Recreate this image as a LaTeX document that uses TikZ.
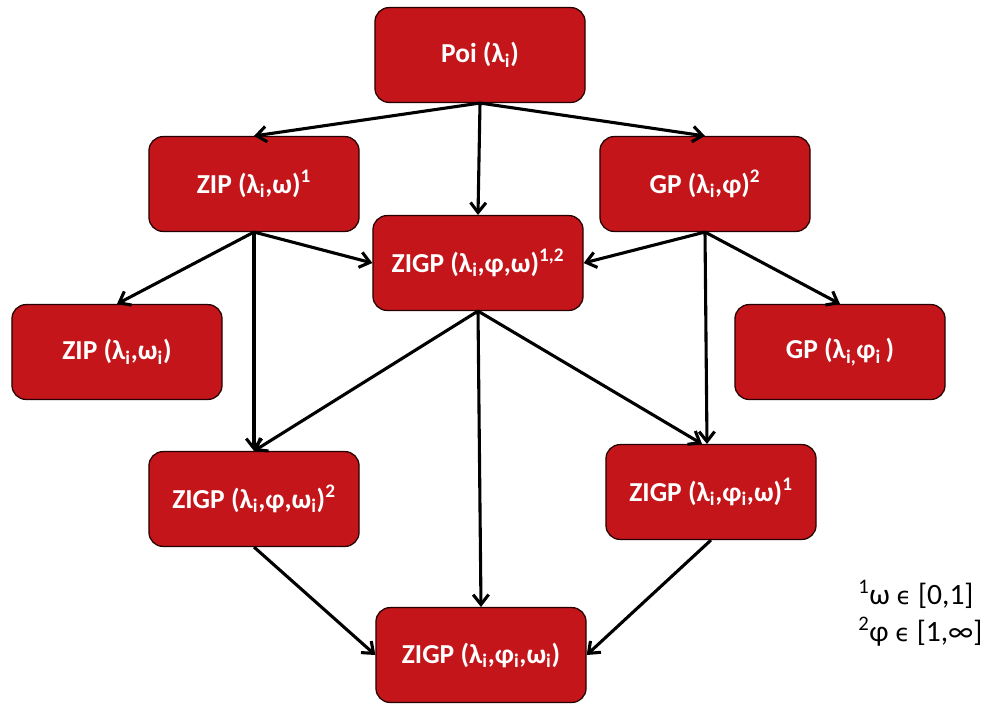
\documentclass[tikz,border=0pt]{standalone}
\usepackage{fontspec}
\setmainfont{Carlito}
\newfontfamily\symfont{DejaVu Sans}
\usetikzlibrary{arrows.meta}
\definecolor{boxred}{RGB}{196,22,26}

\begin{document}
\begin{tikzpicture}[x=0.025cm,y=-0.025cm,
  box/.style={draw=black!85!red,line width=0.9pt,rounded corners=10pt,fill=boxred,text=white,
    font=\bfseries\fontsize{19.5}{23}\selectfont,minimum width=5.25cm,minimum height=2.37cm,inner sep=0pt},
  conn/.style={-{Straight Barb[length=7pt,width=11pt]},line width=2.2pt}]
  \useasboundingbox (0,0) rectangle (992,706);
  % models
  \node[box] (poi) at (480,55) {Poi (λ\textsubscript{i})};
  \node[box] (zip) at (254,184) {ZIP (λ\textsubscript{i},ω)\textsuperscript{1}};
  \node[box] (gp) at (705,184) {GP (λ\textsubscript{i},φ)\textsuperscript{2}};
  \node[box] (zigp) at (478,263) {ZIGP (λ\textsubscript{i},φ,ω)\textsuperscript{1,2}};
  \node[box] (zipw) at (117,352) {ZIP (λ\textsubscript{i},ω\textsubscript{i})};
  \node[box] (gpw) at (840,352) {GP (λ\textsubscript{i,}φ\textsubscript{i}\,)};
  \node[box] (zigpw) at (254,499) {ZIGP (λ\textsubscript{i},φ,ω\textsubscript{i})\textsuperscript{2}};
  \node[box] (zigpf) at (711,492) {ZIGP (λ\textsubscript{i},φ\textsubscript{i},ω)\textsuperscript{1}};
  \node[box] (zigpall) at (481,655) {ZIGP (λ\textsubscript{i},φ\textsubscript{i},ω\textsubscript{i})};
  % footnotes
  \node[anchor=north west,align=left,inner sep=0pt,font=\fontsize{21}{26.5}\selectfont] (note) at (858,580)
    {\textsuperscript{1}ω {\symfont\fontsize{17}{20}\selectfont ϵ} [0,1]\\\textsuperscript{2}φ {\symfont\fontsize{17}{20}\selectfont ϵ} [1,∞]};
  % connectors
  \draw[conn] (poi.south) -- (zip.north);
  \draw[conn] (poi.south) -- (zigp.north);
  \draw[conn] (poi.south) -- (gp.north);
  \draw[conn] (zip.south) -- (zipw.north);
  \draw[conn] (zip.south) -- (zigp.west);
  \draw[conn] (zip.south) -- (zigpw.north);
  \draw[conn] (gp.south) -- (zigp.east);
  \draw[conn] (gp.south) -- (gpw.north);
  \draw[conn] (gp.south) -- ([xshift=-1mm]zigpf.north);
  \draw[conn] (zigp.south) -- (zigpw.north);
  \draw[conn] (zigp.south) -- (zigpall.north);
  \draw[conn] (zigp.south) -- ([xshift=-2.25mm]zigpf.north);
  \draw[conn] (zigpw.south) -- (zigpall.west);
  \draw[conn] (zigpf.south) -- (zigpall.east);
\end{tikzpicture}
\end{document}
